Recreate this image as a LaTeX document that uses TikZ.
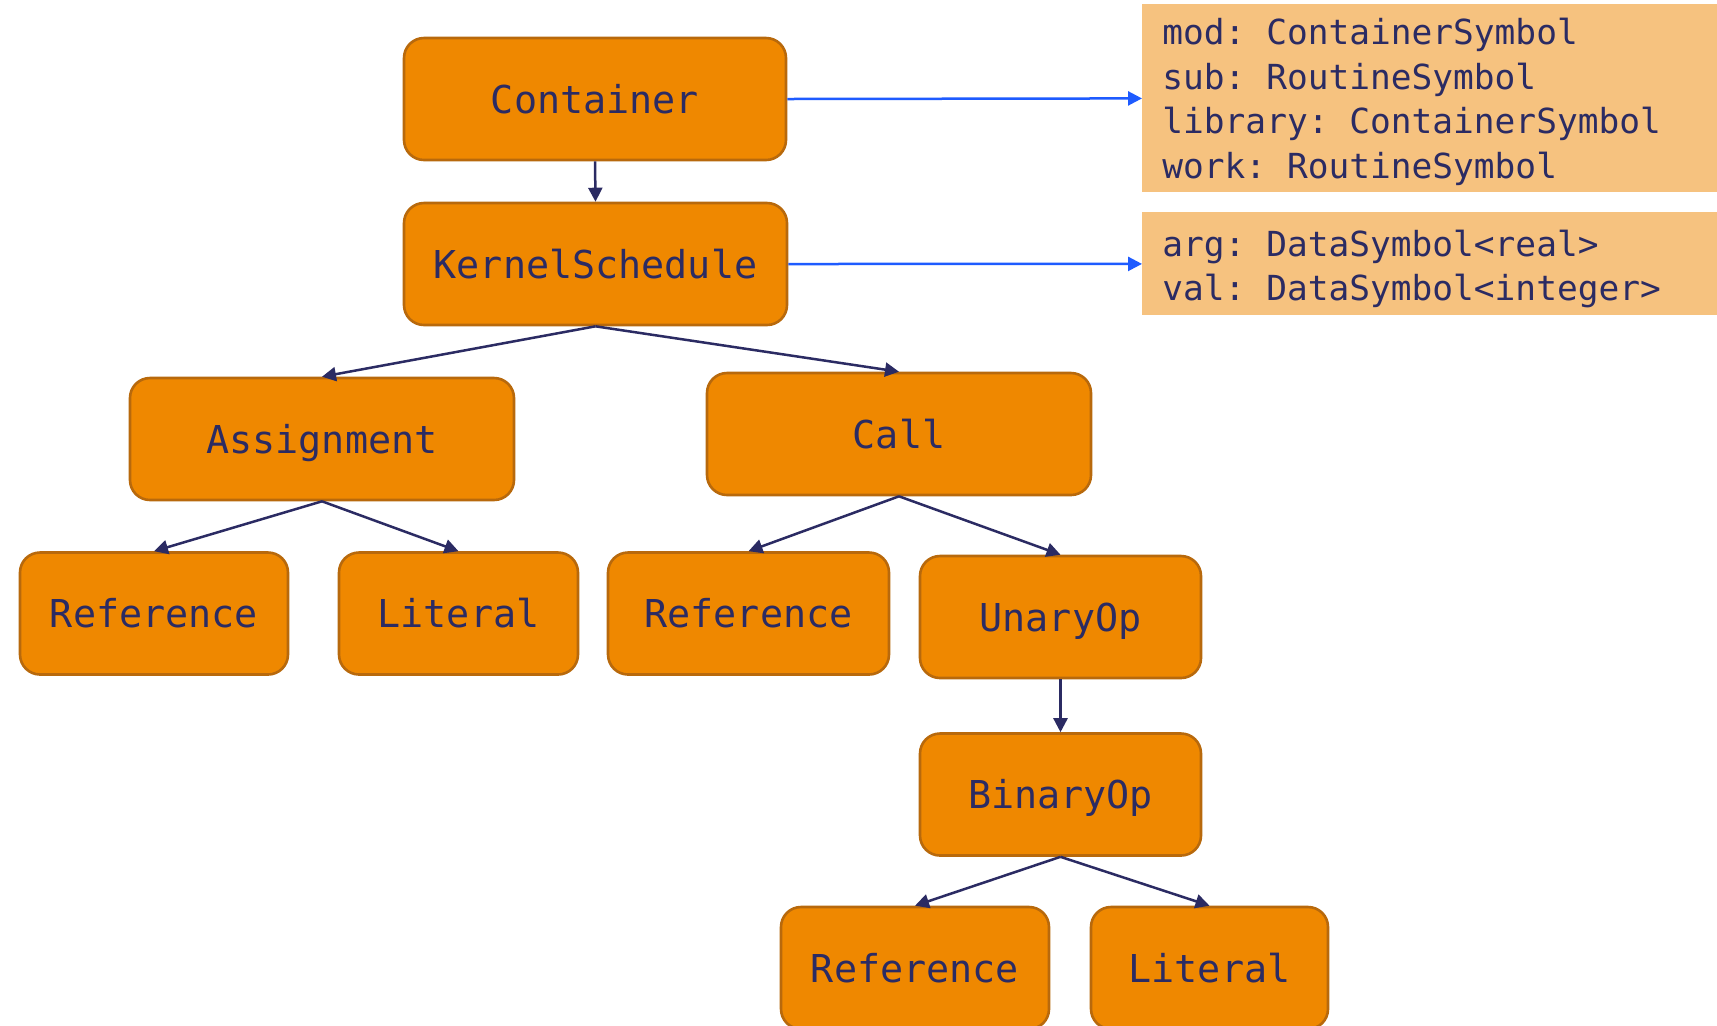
\documentclass[tikz,border=0pt]{standalone}
\usepackage{fontspec}
\newfontfamily\codefont{DejaVu Sans Mono}
\usetikzlibrary{arrows.meta}
\definecolor{boxfill}{HTML}{EF8800}
\definecolor{boxline}{HTML}{B8690C}
\definecolor{navy}{HTML}{2B2B63}
\definecolor{infofill}{HTML}{F6C27F}
\definecolor{linkblue}{HTML}{1E5BFF}
\begin{document}
\begin{tikzpicture}[x=0.5pt,y=-0.5pt,
  box/.style={draw=boxline, line width=1.3pt, fill=boxfill, rounded corners=10pt,
    minimum height=61pt, inner sep=0pt, text=navy, text height=14pt, text depth=0pt,
    font=\codefont\fontsize{19.2pt}{23pt}\selectfont},
  edge/.style={draw=navy, line width=1.25pt, -{Triangle[length=7pt,width=7pt]}},
  link/.style={draw=linkblue, line width=1.25pt, -{Triangle[length=7pt,width=7pt]}},
  infobox/.style={fill=infofill, anchor=north west, inner sep=0pt, minimum width=287.5pt},
  infotext/.style={anchor=west, inner sep=0pt, align=left, text=navy,
    font=\codefont\frenchspacing\fontsize{17.25pt}{22.25pt}\selectfont}]
\clip (0,0) rectangle (1717,1025);
\fill[white] (0,0) rectangle (1717,1025);

\node[box, minimum width=191pt] (cont) at (595,99) {Container};
\node[box, minimum width=191.5pt] (ks) at (595.5,264) {KernelSchedule};
\node[box, minimum width=192pt] (asg) at (322,439) {Assignment};
\node[box, minimum width=192pt] (call) at (899,434) {Call};
\node[box, minimum width=134pt] (ref1) at (154,613.5) {Reference};
\node[box, minimum width=119.5pt] (lit1) at (458.5,613.5) {Literal};
\node[box, minimum width=140.5pt] (ref2) at (748.5,613.5) {Reference};
\node[box, minimum width=140.5pt] (un) at (1060.5,617) {UnaryOp};
\node[box, minimum width=140.5pt] (bin) at (1060.5,794.5) {BinaryOp};
\node[box, minimum width=134pt] (ref3) at (915,968) {Reference};
\node[box, minimum width=118.5pt] (lit2) at (1209.5,968) {Literal};

\node[infobox, minimum height=94pt] (info1) at (1142,4) {};
\node[infotext, xshift=10pt, yshift=-1.8pt] (info1txt) at (info1.west) {mod: ContainerSymbol\\sub: RoutineSymbol\\library: ContainerSymbol\\work: RoutineSymbol};
\node[infobox, minimum height=51.5pt] (info2) at (1142,212) {};
\node[infotext, xshift=10pt, yshift=-2.5pt] (info2txt) at (info2.west) {arg: DataSymbol<real>\\val: DataSymbol<integer>};

\draw[edge] (cont.south) -- (ks.north);
\draw[edge] (ks.south) -- (asg.north);
\draw[edge] (ks.south) -- (call.north);
\draw[edge] (asg.south) -- (ref1.north);
\draw[edge] (asg.south) -- (lit1.north);
\draw[edge] (call.south) -- (ref2.north);
\draw[edge] (call.south) -- (un.north);
\draw[edge] (un.south) -- (bin.north);
\draw[edge] (bin.south) -- (ref3.north);
\draw[edge] (bin.south) -- (lit2.north);
\draw[link] (cont.east) -- (info1.west);
\draw[link] (ks.east) -- (info2.west);
\end{tikzpicture}
\end{document}
